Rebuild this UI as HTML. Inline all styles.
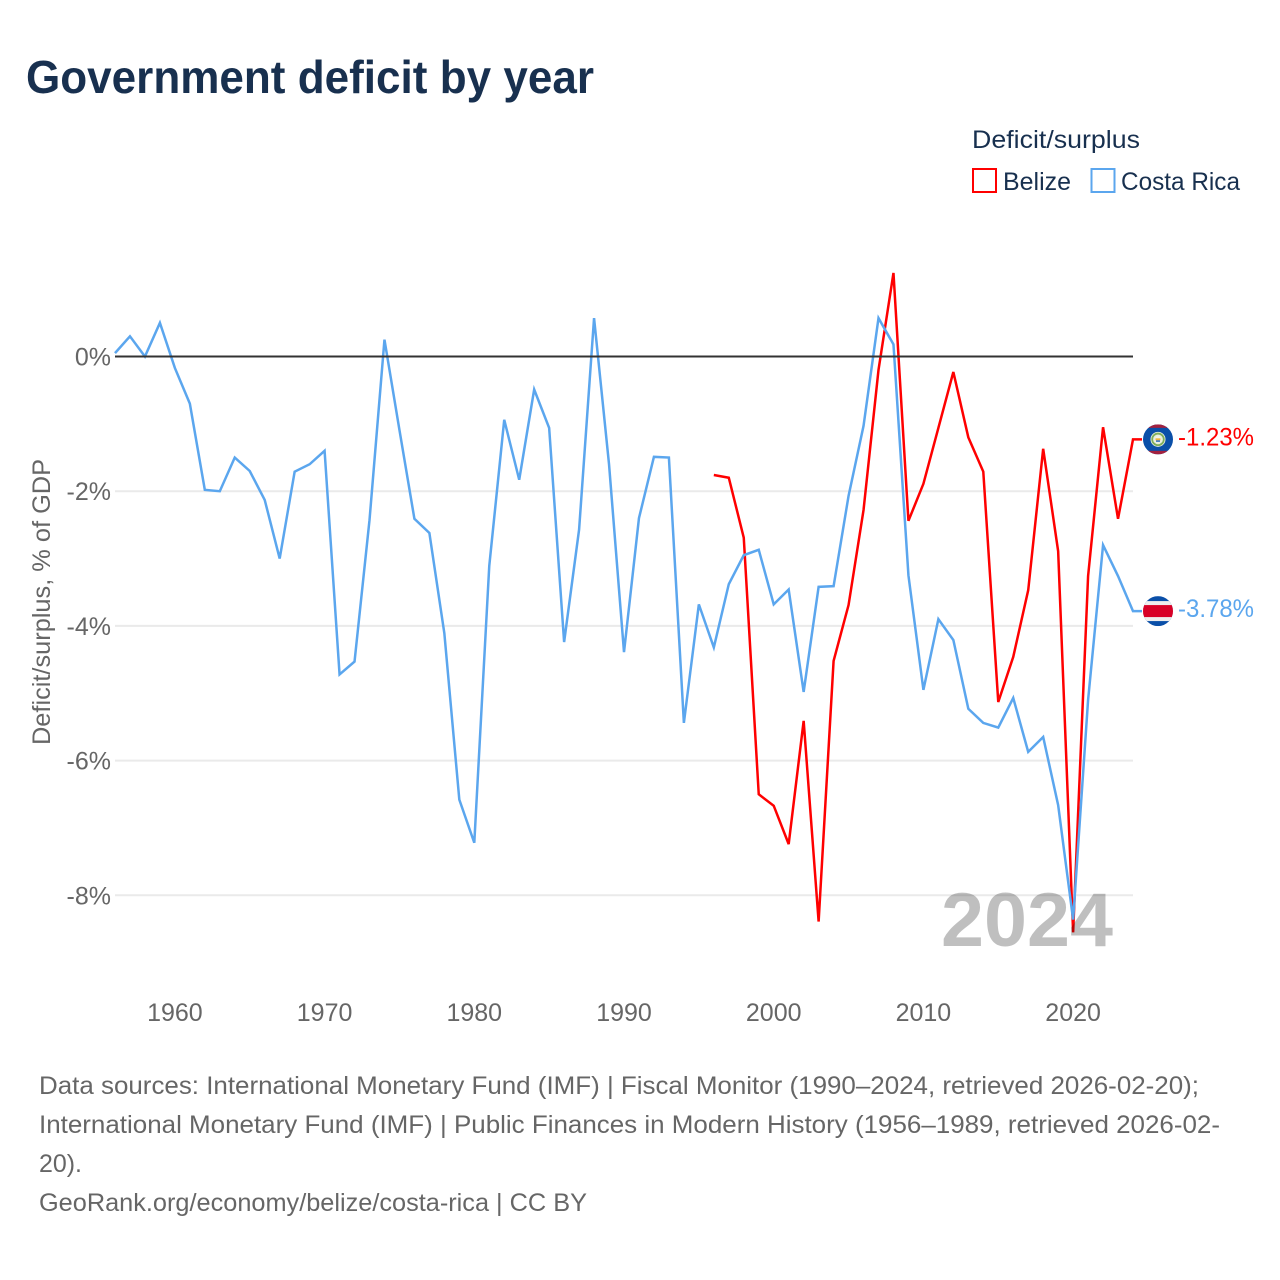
<!DOCTYPE html>
<html lang="en">
<head>
<meta charset="utf-8">
<title>Government deficit by year</title>
<style>
html,body{margin:0;padding:0;background:#fff;}
svg{display:block;font-family:"Liberation Sans",Arial,sans-serif;}
</style>
</head>
<body>
<svg id="chart" width="1280" height="1280" viewBox="0 0 1280 1280" xmlns="http://www.w3.org/2000/svg">
  <rect width="1280" height="1280" fill="#fff"/>
  <text x="26" y="93" font-size="46" font-weight="700" fill="#18304f" textLength="568" lengthAdjust="spacingAndGlyphs">Government deficit by year</text>

  <g>
    <text x="972" y="148" font-size="25" fill="#18304f" textLength="168" lengthAdjust="spacingAndGlyphs">Deficit/surplus</text>
    <rect x="973" y="169" width="23" height="23" fill="#fff" stroke="#ff0000" stroke-width="2"/>
    <text x="1003" y="190" font-size="25" fill="#18304f" textLength="68" lengthAdjust="spacingAndGlyphs">Belize</text>
    <rect x="1091.500" y="169" width="23" height="23" fill="#fff" stroke="#5ba6ee" stroke-width="2"/>
    <text x="1121" y="190" font-size="25" fill="#18304f" textLength="119" lengthAdjust="spacingAndGlyphs">Costa Rica</text>
  </g>

  <g id="grid"></g>
  <g id="yticks"></g>
  <g id="xticks"></g>
  <text transform="translate(50,745) rotate(-90)" font-size="25" fill="#666" textLength="286" lengthAdjust="spacingAndGlyphs">Deficit/surplus, % of GDP</text>

  <g id="series"></g>
  <line id="zero" stroke="#333" stroke-width="2"/>

  <text x="941" y="946" font-size="76" font-weight="700" fill="#000" fill-opacity="0.25" textLength="172" lengthAdjust="spacingAndGlyphs">2024</text>

  <g id="flag-belize">
    <clipPath id="clip-bz"><circle cx="0" cy="0" r="15"/></clipPath>
    <g clip-path="url(#clip-bz)">
      <rect x="-15" y="-15" width="30" height="30" fill="#0a4fa8"/>
      <rect x="-15" y="-15" width="30" height="3.500" fill="#a3213f"/>
      <rect x="-15" y="11.500" width="30" height="3.500" fill="#a3213f"/>
      <circle r="7.500" fill="#e8efe0"/>
      <circle r="5.800" fill="none" stroke="#7fae5a" stroke-width="1.800"/>
      <circle r="3.200" fill="#f2f2e8"/>
      <rect x="-2.500" y="-1" width="5" height="2" fill="#f0b73a"/>
      <rect x="-2" y="1" width="4" height="1.500" fill="#2a6fc0"/>
    </g>
  </g>
  <g id="flag-costa-rica">
    <clipPath id="clip-cr"><circle cx="0" cy="0" r="15"/></clipPath>
    <g clip-path="url(#clip-cr)">
      <rect x="-15" y="-15" width="30" height="30" fill="#0a4fa8"/>
      <rect x="-15" y="-10" width="30" height="20" fill="#eeeeee"/>
      <rect x="-15" y="-6" width="30" height="12" fill="#d80027"/>
    </g>
  </g>
  <text id="label-belize" x="1178" font-size="25" fill="#ff0000" textLength="76" lengthAdjust="spacingAndGlyphs"></text>
  <text id="label-costa-rica" x="1178" font-size="25" fill="#5ba6ee" textLength="76" lengthAdjust="spacingAndGlyphs"></text>

  <g font-size="25" fill="#666">
    <text x="39" y="1094" textLength="1160" lengthAdjust="spacingAndGlyphs">Data sources: International Monetary Fund (IMF) | Fiscal Monitor (1990–2024, retrieved 2026-02-20);</text>
    <text x="39" y="1133" textLength="1181" lengthAdjust="spacingAndGlyphs">International Monetary Fund (IMF) | Public Finances in Modern History (1956–1989, retrieved 2026-02-</text>
    <text x="39" y="1172" textLength="43" lengthAdjust="spacingAndGlyphs">20).</text>
    <text x="39" y="1211" textLength="548" lengthAdjust="spacingAndGlyphs">GeoRank.org/economy/belize/costa-rica | CC BY</text>
  </g>
</svg>
<script>
const yTickValues = [0, -2, -4, -6, -8];
const xTickYears = [1960, 1970, 1980, 1990, 2000, 2010, 2020];
const costaRicaStartYear = 1956;
const costaRicaValues = [0.05, 0.3, 0.0, 0.5, -0.17, -0.7, -1.98, -2.0, -1.5, -1.7, -2.13, -3.0, -1.71, -1.6, -1.4, -4.72, -4.53, -2.43, 0.25, -1.09, -2.41, -2.62, -4.11, -6.58, -7.22, -3.11, -0.94, -1.83, -0.49, -1.06, -4.24, -2.57, 0.57, -1.6, -4.39, -2.4, -1.49, -1.5, -5.44, -3.68, -4.32, -3.38, -2.95, -2.87, -3.68, -3.46, -4.98, -3.42, -3.41, -2.07, -1.03, 0.57, 0.18, -3.25, -4.95, -3.9, -4.21, -5.23, -5.44, -5.51, -5.07, -5.87, -5.65, -6.66, -8.36, -5.1, -2.8, -3.26, -3.78];
const belizeStartYear = 1996;
const belizeValues = [-1.76, -1.8, -2.69, -6.5, -6.67, -7.24, -5.41, -8.39, -4.52, -3.69, -2.28, -0.2, 1.24, -2.44, -1.89, -1.06, -0.23, -1.2, -1.71, -5.13, -4.46, -3.47, -1.37, -2.89, -8.55, -3.26, -1.05, -2.41, -1.23];

const NS = 'http://www.w3.org/2000/svg';
const plotLeft = 115, plotRight = 1133;
function xScale(year) { return plotLeft + (year - 1956) * (plotRight - plotLeft) / 68; }
function yScale(v) { return 356.5 - v * 67.35; }

const grid = document.getElementById('grid');
const yticks = document.getElementById('yticks');
yTickValues.forEach(function (v) {
  if (v !== 0) {
    const ln = document.createElementNS(NS, 'line');
    
    
    ln.setAttribute('x1', plotLeft);
    ln.setAttribute('x2', plotRight);
    ln.setAttribute('y1', yScale(v));
    ln.setAttribute('y2', yScale(v));
    ln.setAttribute('stroke', '#eaeaea');
    ln.setAttribute('stroke-width', '2');
    grid.appendChild(ln);
  }
  const t = document.createElementNS(NS, 'text');
  
  
  t.setAttribute('x', 111);
  t.setAttribute('y', yScale(v) + 9);
  t.setAttribute('text-anchor', 'end');
  t.setAttribute('font-size', '25');
  t.setAttribute('fill', '#666');
  t.textContent = v + '%';
  yticks.appendChild(t);
});

const xticks = document.getElementById('xticks');
xTickYears.forEach(function (yr) {
  const t = document.createElementNS(NS, 'text');
  
  
  t.setAttribute('x', xScale(yr));
  t.setAttribute('y', 1021);
  t.setAttribute('text-anchor', 'middle');
  t.setAttribute('font-size', '25');
  t.setAttribute('fill', '#666');
  t.textContent = String(yr);
  xticks.appendChild(t);
});

const zero = document.getElementById('zero');
zero.setAttribute('x1', plotLeft);
zero.setAttribute('x2', plotRight);
zero.setAttribute('y1', yScale(0));
zero.setAttribute('y2', yScale(0));

function linePath(startYear, values) {
  let d = '';
  values.forEach(function (v, i) {
    d += (i ? 'L' : 'M') + xScale(startYear + i).toFixed(2) + ' ' + yScale(v).toFixed(2);
  });
  const last = values[values.length - 1];
  d += 'L1142 ' + yScale(last).toFixed(2);
  return d;
}

const seriesGroup = document.getElementById('series');

const belizeLine = document.createElementNS(NS, 'path');


belizeLine.setAttribute('d', linePath(belizeStartYear, belizeValues));
belizeLine.setAttribute('fill', 'none');
belizeLine.setAttribute('stroke', '#ff0000');
belizeLine.setAttribute('stroke-width', '2.500');
seriesGroup.appendChild(belizeLine);

const costaLine = document.createElementNS(NS, 'path');


costaLine.setAttribute('d', linePath(costaRicaStartYear, costaRicaValues));
costaLine.setAttribute('fill', 'none');
costaLine.setAttribute('stroke', '#5ba6ee');
costaLine.setAttribute('stroke-width', '2.500');
seriesGroup.appendChild(costaLine);

const bzLast = belizeValues[belizeValues.length - 1];
const crLast = costaRicaValues[costaRicaValues.length - 1];
document.getElementById('flag-belize').setAttribute('transform', 'translate(1158,' + yScale(bzLast).toFixed(2) + ')');
document.getElementById('flag-costa-rica').setAttribute('transform', 'translate(1158,' + yScale(crLast).toFixed(2) + ')');
const bzLabel = document.getElementById('label-belize');
bzLabel.setAttribute('y', (yScale(bzLast) + 6).toFixed(2));
bzLabel.textContent = bzLast.toFixed(2) + '%';
const crLabel = document.getElementById('label-costa-rica');
crLabel.setAttribute('y', (yScale(crLast) + 6).toFixed(2));
crLabel.textContent = crLast.toFixed(2) + '%';
</script>
</body>
</html>
